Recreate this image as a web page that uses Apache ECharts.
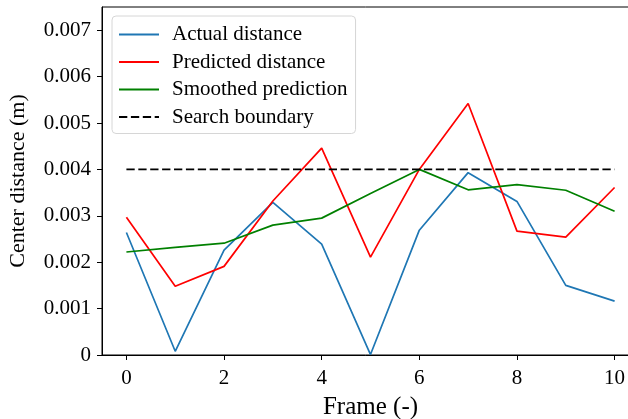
<!DOCTYPE html>
<html>
<head>
<meta charset="utf-8">
<script src="https://cdn.jsdelivr.net/npm/echarts@6/dist/echarts.min.js"></script>
<style>
  html, body { margin: 0; padding: 0; background: #fff; }
  #chart { width: 628px; height: 419px; }
</style>
</head>
<body>
<div id="chart"></div>
<script>
// frames on the x axis
const frames = [0, 1, 2, 3, 4, 5, 6, 7, 8, 9, 10];

// series values (m)
const actualDistance = [0.00264, 0.00008, 0.00226, 0.00329, 0.00239, 0.00001, 0.00269, 0.00393, 0.00331, 0.00150, 0.00116];
const predictedDistance = [0.00297, 0.00148, 0.00191, 0.00332, 0.00446, 0.00211, 0.00400, 0.00542, 0.00267, 0.00254, 0.00361];
const smoothedPrediction = [0.00222, 0.00232, 0.00241, 0.00280, 0.00295, 0.00348, 0.00400, 0.00356, 0.00367, 0.00355, 0.00310];
const searchBoundary = [0.004, 0.004];
const boundaryFrames = [0, 10];

// tick labels
const xTicks = [0, 2, 4, 6, 8, 10];
const yTicks = [0, 0.001, 0.002, 0.003, 0.004, 0.005, 0.006, 0.007];
const yTickLabels = ['0', '0.001', '0.002', '0.003', '0.004', '0.005', '0.006', '0.007'];

const font = 'Liberation Serif';
const pairs = (xs, ys) => xs.map((x, i) => [x, ys[i]]);

const chart = echarts.init(document.getElementById('chart'));

function lineSeries(name, xs, ys, color, type) {
    return {
        name: name,
        type: 'line',
        data: pairs(xs, ys),
        showSymbol: false,
        symbol: 'none',
        animation: false,
        lineStyle: { color: color, width: 1.7, type: type || 'solid' },
        itemStyle: { color: color }
    };
}

const option = {
    animation: false,
    grid: {
        left: 102, top: 7, width: 537, height: 348,
        outerBoundsMode: 'none',
        containLabel: false,
        show: true, borderColor: '#000', borderWidth: 1
    },
    legend: {
        orient: 'vertical',
        left: 112, top: 16,
        padding: [8, 8, 6, 6],
        itemWidth: 40,
        itemHeight: 21,
        itemGap: 6.5,
        itemStyle: { opacity: 0 },
        backgroundColor: '#fff',
        borderColor: '#d6d6d6',
        borderWidth: 1,
        borderRadius: 4,
        textStyle: { fontFamily: font, fontSize: 21, color: '#000', lineHeight: 21, padding: [0, 0, 0, 8] },
        data: ['Actual distance', 'Predicted distance', 'Smoothed prediction', 'Search boundary']
    },
    xAxis: {
        type: 'value',
        min: -0.5, max: 10.5,
        name: 'Frame (-)',
        nameLocation: 'middle',
        nameGap: 40,
        nameTextStyle: { fontFamily: font, fontSize: 25, color: '#000' },
        splitLine: { show: false },
        axisLine: { show: true, onZero: false, lineStyle: { color: '#000', width: 1 } },
        axisTick: { show: true, length: 5, customValues: xTicks, lineStyle: { color: '#000' } },
        axisLabel: { customValues: xTicks, margin: 13, fontFamily: font, fontSize: 21, color: '#000' }
    },
    yAxis: {
        type: 'value',
        min: 0, max: 0.0075,
        name: 'Center distance (m)',
        nameLocation: 'middle',
        nameGap: 73,
        nameTextStyle: { fontFamily: font, fontSize: 22, color: '#000' },
        splitLine: { show: false },
        axisLine: { show: true, onZero: false, lineStyle: { color: '#000', width: 1 } },
        axisTick: { show: true, length: 5, customValues: yTicks, lineStyle: { color: '#000' } },
        axisLabel: {
            customValues: yTicks,
            margin: 11,
            fontFamily: font, fontSize: 21, color: '#000',
            formatter: function (v) {
                const i = yTicks.findIndex(t => Math.abs(t - v) < 1e-9);
                return i >= 0 ? yTickLabels[i] : '';
            }
        }
    },
    series: [
        lineSeries('Actual distance', frames, actualDistance, '#1f77b4'),
        lineSeries('Predicted distance', frames, predictedDistance, '#ff0000'),
        lineSeries('Smoothed prediction', frames, smoothedPrediction, '#008000'),
        lineSeries('Search boundary', boundaryFrames, searchBoundary, '#000000', [8.3, 3.6])
    ]
};

chart.setOption(option);
</script>
</body>
</html>
